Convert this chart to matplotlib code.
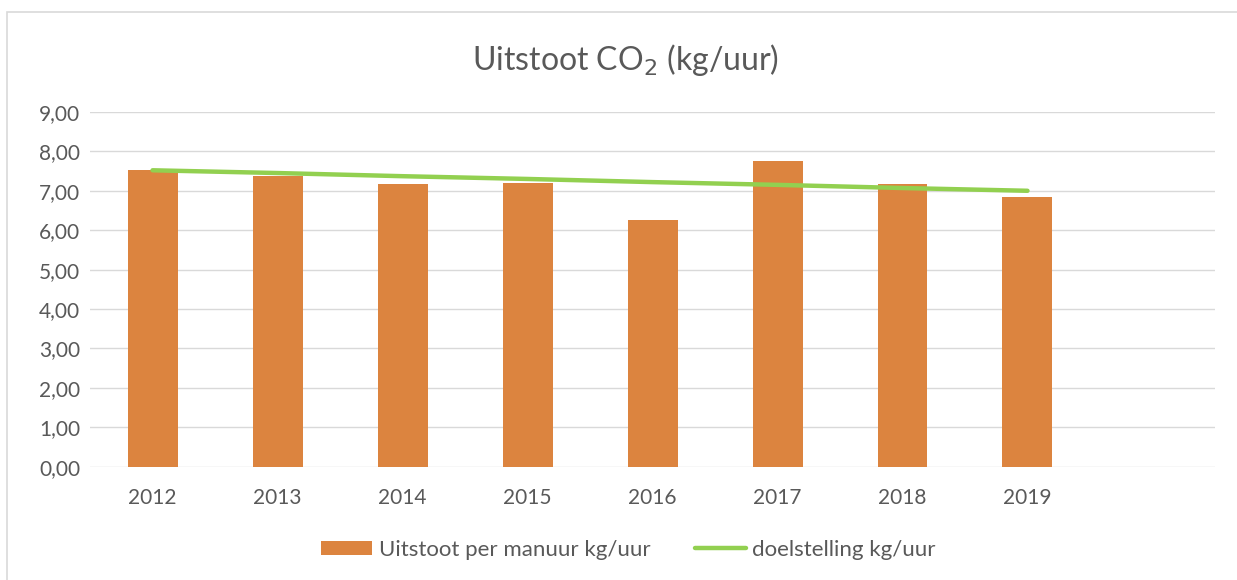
import numpy as np
import matplotlib.pyplot as plt
from matplotlib.patches import Rectangle

years = ['2012', '2013', '2014', '2015', '2016', '2017', '2018', '2019']
uitstoot = [7.53, 7.37, 7.17, 7.21, 6.26, 7.76, 7.17, 6.84]
doel = [7.52, 7.45, 7.37, 7.30, 7.22, 7.15, 7.07, 7.00]
yticks = [0, 1, 2, 3, 4, 5, 6, 7, 8, 9]

plt.rcParams['font.family'] = ['Lato', 'DejaVu Sans']
txt_color = '#595959'

fig = plt.figure(figsize=(12.37, 5.80), dpi=100)
ax = fig.add_axes([0.0728, 0.1953, 0.9094, 0.6117])

# chart frame
fig.patches.append(Rectangle((7 / 1237, -0.01), 1.0, 1 - 12 / 580 + 0.01, transform=fig.transFigure,
                             fill=False, edgecolor='#d9d9d9', linewidth=1.2))

x = np.arange(len(years))
bars = ax.bar(x, uitstoot, width=0.4, color='#dc843f', label='Uitstoot per manuur kg/uur', zorder=2)
line, = ax.plot(x, doel, color='#92d050', linewidth=3.2, solid_capstyle='round',
                label='doelstelling kg/uur', zorder=3)

ax.set_xlim(-0.5, len(years) + 0.5)
ax.set_ylim(0, 9)
ax.set_yticks(yticks)
ax.set_yticklabels(['%d,00' % v for v in yticks])
ax.set_xticks(x)
ax.set_xticklabels(years)
ax.tick_params(length=0, labelsize=15, colors=txt_color)
ax.tick_params(axis='x', pad=15)
ax.tick_params(axis='y', pad=7)
ax.grid(axis='y', color='#d9d9d9', linewidth=1, zorder=0)
for s in ax.spines.values():
    s.set_visible(False)

fig.text(0.506, 0.897, r'Uitstoot CO$_2$ (kg/uur)', ha='center', va='center',
         fontsize=23, color=txt_color)

leg = fig.legend([bars, line], ['Uitstoot per manuur kg/uur', 'doelstelling kg/uur'],
                 loc='center', bbox_to_anchor=(0.508, 0.052), ncol=2, frameon=False,
                 fontsize=16, labelcolor=txt_color, handlelength=2.3, handletextpad=0.3,
                 columnspacing=2.0, handleheight=0.6)

plt.savefig('out.png')
